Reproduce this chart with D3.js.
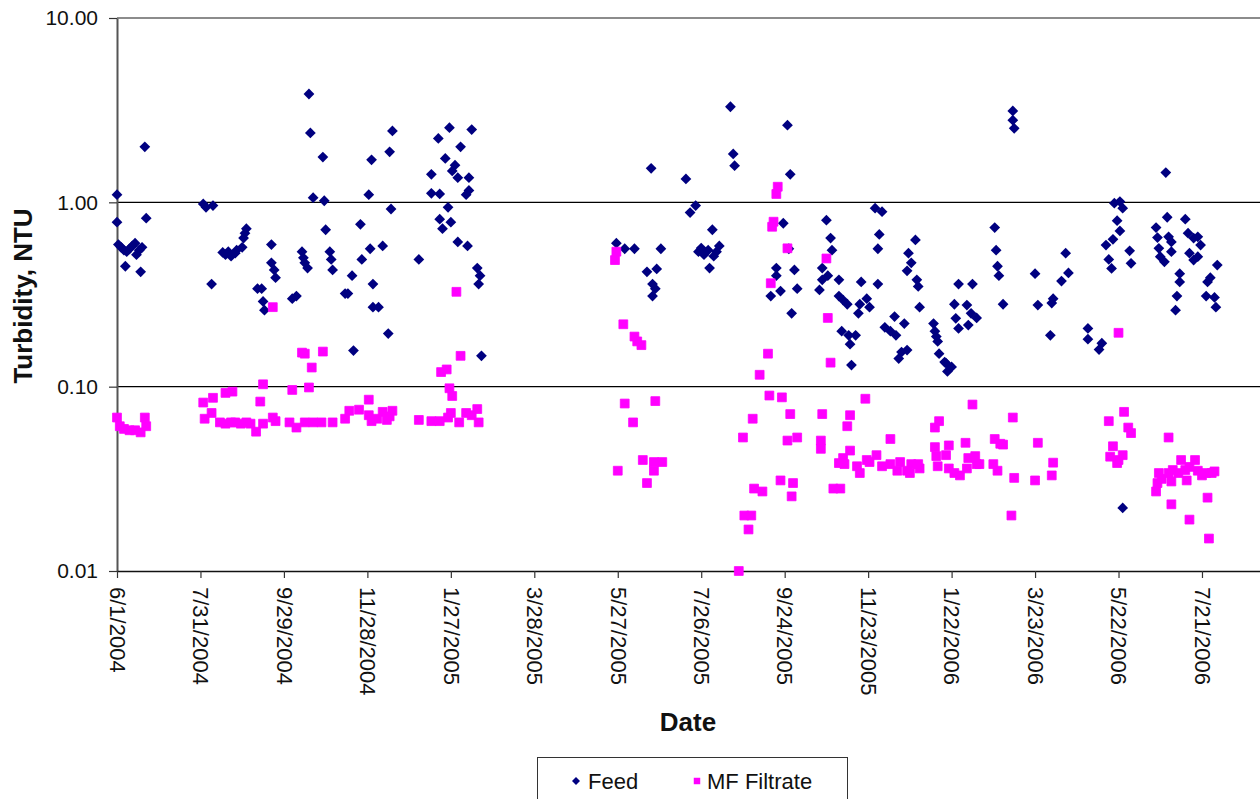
<!DOCTYPE html>
<html>
<head>
<meta charset="utf-8">
<script src="https://cdn.jsdelivr.net/npm/d3@7"></script>
<style>
  body { margin: 0; background: #fff; }
  text { font-family: "Liberation Sans", Arial, sans-serif; }
</style>
</head>
<body>
<div class="grafico"></div>
<script>
// dates are Excel serial numbers (38139 = 6/1/2004)
var feedDate = [
  38139,38139,38140,38142,38144,38145,38146,38148,38150,38152,38153,38155,38156,38157,38159,38160,
  38201,38203,38208,38207,38215,38217,38219,38221,38224,38225,38229,38230,38231,38232,
  38240,38243,38244,38245,38250,38250,38252,38253,
  38265,38268,38272,38273,38274,38276,38277,38278,38280,38287,38288,38289,38292,38293,38294,38303,
  38305,38308,38309,38314,38315,38320,38321,38322,38323,38323,38327,38330,38334,38335,38337,38336,
  38356,38365,38365,38370,38371,38371,38373,38375,38377,38378,38379,38380,38382,38384,38384,38386,
  38390,38391,38392,38392,38394,38398,38399,38400,38401,
  38498,38504,38511,38520,38523,38524,38524,38526,38527,38530,
  38548,38551,38555,38557,38559,38561,38564,38565,38567,38568,38570,38572,38580,38582,38583,
  38609,38613,38613,38616,38618,38621,38622,38623,38624,38626,38628,
  38644,38646,38646,38649,38650,38652,38653,38658,38658,38660,38661,38664,38665,38666,38667,38670,
  38672,38673,38674,38678,38680,38686,38684,38686,38687,38689,38691,38695,38698,38699,38701,38703,
  38705,38707,38707,38708,38710,38713,38714,38715,38716,38726,38727,38728,38729,38730,38734,38735,
  38736,38739,38741,38742,38744,38744,38750,38751,38753,38754,38757,
  38770,38771,38772,38773,38776,38783,38783,38784,38799,38801,38810,38811,38812,38818,38821,38823,
  38837,38837,38845,38847,38850,38852,38854,38855,38856,38858,38860,38860,38862,38862,38867,38868,
  38886,38887,38888,38889,38892,38893,38894,38895,38897,38897,38900,38901,38903,38903,38907,38909,
  38910,38913,38913,38916,38916,38918,38922,38923,38925,38928,38929,38930
];
var feedNTU = [
  1.10,0.78,0.59,0.57,0.55,0.45,0.54,0.56,0.58,0.60,0.52,0.55,0.42,0.57,2.0,0.82,
  0.98,0.94,0.96,0.36,0.535,0.52,0.54,0.51,0.53,0.55,0.57,0.64,0.68,0.72,
  0.34,0.34,0.29,0.26,0.59,0.47,0.43,0.39,
  0.30,0.31,0.54,0.50,0.47,0.44,3.87,2.38,1.06,1.76,1.02,0.71,0.54,0.49,0.43,0.32,
  0.32,0.40,0.157,0.76,0.49,1.10,0.56,1.70,0.36,0.27,0.27,0.58,0.194,1.88,2.44,0.92,
  0.49,1.42,1.12,2.22,1.11,0.81,0.72,1.73,0.94,2.54,0.78,1.48,1.59,0.61,1.36,2.00,
  1.10,0.58,1.16,1.36,2.48,0.44,0.36,0.40,0.147,
  0.60,0.56,0.56,0.42,1.53,0.31,0.36,0.34,0.435,0.56,
  1.34,0.88,0.96,0.54,0.565,0.52,0.55,0.44,0.71,0.51,0.54,0.58,3.30,1.83,1.58,
  0.31,0.44,0.40,0.33,0.77,2.62,0.56,1.42,0.25,0.43,0.34,
  0.335,0.44,0.38,0.80,0.40,0.64,0.55,0.38,0.31,0.20,0.295,0.28,0.19,0.17,0.131,0.19,
  0.25,0.28,0.37,0.30,0.27,0.36,0.93,0.56,0.67,0.89,0.21,0.20,0.24,0.19,0.142,0.154,
  0.22,0.158,0.425,0.53,0.47,0.625,0.38,0.35,0.27,0.22,0.20,0.187,0.176,0.151,0.136,0.134,
  0.121,0.128,0.28,0.235,0.36,0.207,0.277,0.216,0.25,0.36,0.236,
  0.73,0.55,0.45,0.40,0.28,3.13,2.79,2.52,0.41,0.277,0.19,0.284,0.30,0.374,0.53,0.414,
  0.207,0.181,0.159,0.172,0.586,0.49,0.438,0.63,0.99,0.795,1.01,0.70,0.93,0.022,0.546,0.467,
  0.73,0.644,0.563,0.507,0.476,1.45,0.83,0.65,0.61,0.54,0.26,0.31,0.37,0.41,0.81,0.68,
  0.53,0.64,0.486,0.65,0.507,0.586,0.31,0.37,0.39,0.305,0.27,0.457
];

var filtrateDate = [
  38139,38141,38144,38148,38152,38156,38159,38160,
  38201,38202,38207,38208,38217,38222,38213,38217,38221,38224,38228,38232,38235,38239,38242,38244,
  38244,38251,38251,38253,38263,38265,38268,38272,38274,38274,38277,38279,38280,38286,38287,38294,
  38303,38306,38313,38320,38320,38322,38326,38330,38333,38335,38337,
  38356,38365,38371,38372,38376,38377,38378,38379,38380,38383,38385,38386,38390,38394,38398,38399,
  38497,38498,38499,38503,38504,38510,38511,38513,38516,38517,38520,38525,38525,38526,38531,
  38586,38589,38590,38595,38593,38596,38597,38601,38603,38607,38608,38609,38610,38611,38613,38614,
  38616,38617,38621,38621,38623,38624,38625,38628,
  38645,38645,38646,38649,38650,38652,38654,38659,38658,38661,38664,38666,38666,38671,38673,38677,
  38678,38685,38689,38695,38695,38702,38707,38709,38715,38716,38662,38680,38700,38710,
  38727,38727,38728,38729,38730,38735,38737,38737,38741,38745,38749,38750,38751,38754,38756,38757,
  38759,38769,38770,38772,38774,38776,38782,38783,38784,38799,38801,38811,38812,
  38852,38853,38855,38858,38859,38862,38863,38866,38868,38859,
  38886,38887,38888,38895,38895,38897,38897,38902,38904,38908,38910,38914,38916,38922,38923,38924,
  38928,38890,38898,38910,38919,38926,38907
];
var filtrateNTU = [
  0.068,0.061,0.059,0.058,0.058,0.0565,0.068,0.061,
  0.082,0.067,0.072,0.087,0.0925,0.094,0.064,0.063,0.064,0.064,0.063,0.064,0.063,0.057,0.083,0.063,
  0.103,0.068,0.27,0.065,0.064,0.096,0.060,0.153,0.151,0.064,0.099,0.127,0.064,0.064,0.155,0.064,
  0.067,0.074,0.075,0.085,0.070,0.065,0.067,0.073,0.066,0.069,0.074,
  0.066,0.065,0.065,0.12,0.124,0.068,0.098,0.072,0.089,0.327,0.064,0.147,0.072,0.070,0.0756,0.064,
  0.486,0.54,0.035,0.218,0.081,0.064,0.187,0.176,0.168,0.040,0.030,0.039,0.035,0.0835,0.039,
  0.010,0.053,0.020,0.020,0.0168,0.067,0.028,0.116,0.027,0.151,0.0895,0.364,0.737,0.785,1.11,1.215,
  0.031,0.0875,0.563,0.051,0.071,0.0254,0.030,0.053,
  0.046,0.051,0.071,0.496,0.236,0.135,0.028,0.028,0.0385,0.041,0.061,0.045,0.070,0.037,0.034,0.086,
  0.040,0.0425,0.037,0.038,0.052,0.039,0.035,0.034,0.038,0.036,0.038,0.039,0.035,0.038,
  0.047,0.060,0.042,0.037,0.065,0.0425,0.048,0.036,0.034,0.033,0.0496,0.036,0.041,0.080,0.042,0.038,
  0.038,0.038,0.052,0.035,0.049,0.0485,0.020,0.068,0.032,0.031,0.0496,0.033,0.0387,
  0.065,0.0417,0.0475,0.0385,0.196,0.0425,0.073,0.060,0.056,0.040,
  0.027,0.030,0.034,0.053,0.034,0.0306,0.023,0.034,0.040,0.031,0.019,0.040,0.035,0.034,0.025,0.015,
  0.0347,0.0316,0.0353,0.0367,0.033,0.034,0.0353
];

var tickSerials = [38139,38199,38259,38319,38379,38439,38499,38559,38619,38679,38739,38799,38859,38919];
var tickLabels = ["6/1/2004","7/31/2004","9/29/2004","11/28/2004","1/27/2005","3/28/2005","5/27/2005",
  "7/26/2005","9/24/2005","11/23/2005","1/22/2006","3/23/2006","5/22/2006","7/21/2006"];
var yTicks = [10, 1, 0.1, 0.01];

function serialToDate(s) {
  return new Date(Date.UTC(1899, 11, 30) + s * 864e5);
}

var ancho = 1260, alto = 799;
var izq = 117, arriba = 18, abajo = 571;

var contenedor = d3.select('.grafico')
  .append('svg')
  .attr('width', ancho)
  .attr('height', alto);

contenedor.append('rect')
  .attr('width', ancho)
  .attr('height', alto)
  .attr('fill', '#fff');

const xScale = d3.scaleUtc()
  .domain([serialToDate(38139), serialToDate(38979)])
  .range([izq, izq + 840 * 1.391]);

const yScale = d3.scaleLog()
  .domain([0.01, 10])
  .range([abajo, arriba]);

// gridlines
contenedor.append('g')
  .selectAll('line')
  .data([1, 0.1])
  .enter()
  .append('line')
  .attr('x1', izq)
  .attr('x2', ancho)
  .attr('y1', d => yScale(d))
  .attr('y2', d => yScale(d))
  .attr('stroke', '#000')
  .attr('stroke-width', 1.2);

// plot area top border
contenedor.append('line')
  .attr('x1', izq)
  .attr('x2', ancho)
  .attr('y1', yScale(10))
  .attr('y2', yScale(10))
  .attr('stroke', '#8c8c8c')
  .attr('stroke-width', 2);

// y axis
const yAxis = d3.axisLeft(yScale)
  .tickValues(yTicks)
  .tickFormat(d3.format('.2f'))
  .tickSizeInner(8)
  .tickSizeOuter(0)
  .tickPadding(11);

var ejeY = contenedor.append('g')
  .attr('transform', 'translate(' + izq + ',0)')
  .call(yAxis);
ejeY.select('.domain').attr('stroke', '#555').attr('stroke-width', 2);
ejeY.selectAll('.tick line').attr('stroke', '#333').attr('stroke-width', 1.2);
ejeY.selectAll('.tick text')
  .attr('font-size', 21)
  .attr('font-family', '"Liberation Sans", Arial, sans-serif')
  .attr('fill', '#111');

// x axis
const xAxis = d3.axisBottom(xScale)
  .tickValues(tickSerials.map(serialToDate))
  .tickFormat((d, i) => tickLabels[i])
  .tickSizeInner(7)
  .tickSizeOuter(0)
  .tickPadding(0);

var ejeX = contenedor.append('g')
  .attr('transform', 'translate(0,' + abajo + ')')
  .call(xAxis);
ejeX.select('.domain').attr('stroke', '#111').attr('stroke-width', 1.5);
ejeX.selectAll('.tick line').attr('stroke', '#333').attr('stroke-width', 1.2);
ejeX.selectAll('.tick text')
  .attr('font-size', 22)
  .attr('font-family', '"Liberation Sans", Arial, sans-serif')
  .attr('fill', '#111')
  .attr('text-anchor', 'start')
  .attr('y', 0)
  .attr('dy', '0.35em')
  .attr('transform', 'translate(0,16) rotate(90)');

// markers
var diamante = d3.symbol().type(d3.symbolSquare).size(58);
var cuadro = d3.symbol().type(d3.symbolSquare).size(78);

var feed = feedDate.map((s, i) => ({ fecha: serialToDate(s), valor: feedNTU[i] }));
var filtrado = filtrateDate.map((s, i) => ({ fecha: serialToDate(s), valor: filtrateNTU[i] }));

contenedor.append('g')
  .selectAll('path')
  .data(feed)
  .enter()
  .append('path')
  .attr('d', diamante)
  .attr('fill', '#000080')
  .attr('transform', d => 'translate(' + xScale(d.fecha) + ',' + yScale(d.valor) + ') rotate(45)');

contenedor.append('g')
  .selectAll('path')
  .data(filtrado)
  .enter()
  .append('path')
  .attr('d', cuadro)
  .attr('fill', '#ff00ff')
  .attr('stroke', '#ff00ff')
  .attr('stroke-width', 0.8)
  .attr('stroke-linejoin', 'round')
  .attr('transform', d => 'translate(' + xScale(d.fecha) + ',' + yScale(d.valor) + ')');

// axis titles
contenedor.append('text')
  .attr('transform', 'translate(32,296) rotate(-90)')
  .attr('text-anchor', 'middle')
  .attr('font-size', 26)
  .attr('font-weight', 'bold')
  .attr('fill', '#111')
  .text('Turbidity, NTU');

contenedor.append('text')
  .attr('x', 688)
  .attr('y', 731)
  .attr('text-anchor', 'middle')
  .attr('font-size', 26)
  .attr('font-weight', 'bold')
  .attr('fill', '#111')
  .text('Date');

// legend
var leyenda = contenedor.append('g');

leyenda.append('rect')
  .attr('x', 537.5)
  .attr('y', 757.5)
  .attr('width', 310)
  .attr('height', 60)
  .attr('fill', '#fff')
  .attr('stroke', '#333')
  .attr('stroke-width', 1);

leyenda.append('path')
  .attr('d', d3.symbol().type(d3.symbolSquare).size(32))
  .attr('fill', '#000080')
  .attr('transform', 'translate(576,781) rotate(45)');

leyenda.append('text')
  .attr('x', 588)
  .attr('y', 781)
  .attr('dy', '0.35em')
  .attr('font-size', 22)
  .attr('fill', '#111')
  .text('Feed');

leyenda.append('path')
  .attr('d', d3.symbol().type(d3.symbolSquare).size(42))
  .attr('fill', '#ff00ff')
  .attr('transform', 'translate(697,781)');

leyenda.append('text')
  .attr('x', 707)
  .attr('y', 781)
  .attr('dy', '0.35em')
  .attr('font-size', 22)
  .attr('fill', '#111')
  .text('MF Filtrate');
</script>
</body>
</html>
